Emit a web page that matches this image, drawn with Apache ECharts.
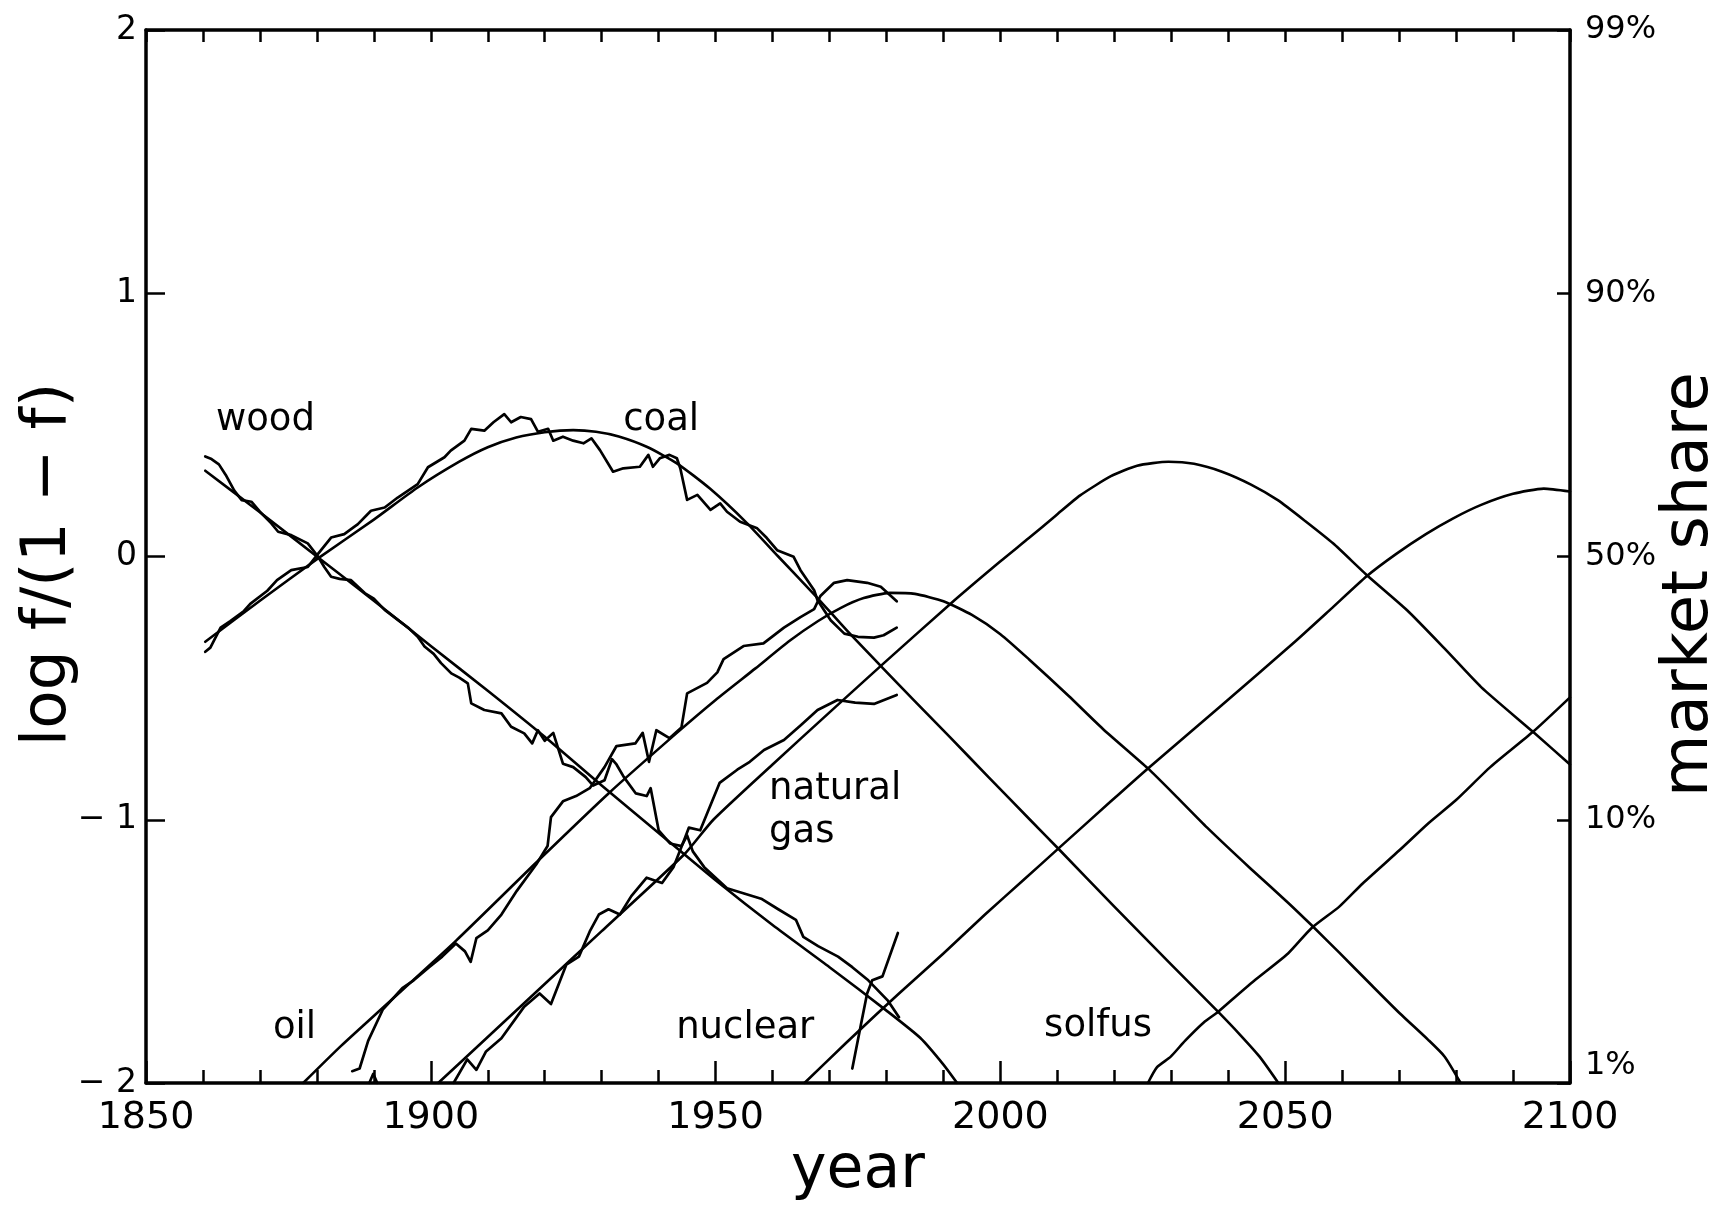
<!DOCTYPE html>
<html><head><meta charset="utf-8">
<script src="https://cdn.jsdelivr.net/npm/echarts@6/dist/echarts.min.js"></script>
<style>html,body{margin:0;padding:0;background:#fff}#c{width:1723px;height:1211px}</style>
</head><body><div id="c"></div>
<script>
// ---------- axes ----------
const yearMin = 1850, yearMax = 2100;
const logMin = -2, logMax = 2;
const leftTickLabels = { '2': '2', '1': '1', '0': '0', '-1': '− 1', '-2': '− 2' };
const shareTickLabels = { '2': '99%', '1': '90%', '0': '50%', '-1': '10%', '-2': '1%' };

// ---------- series (year, log f/(1-f)) ----------
const woodData = [[1860.4,0.38],[1861.5,0.37],[1862.8,0.35],[1864,0.31],[1865.5,0.25],[1866.8,0.214],[1868.5,0.208],[1870,0.17],[1872,0.126],[1873.2,0.094],[1875.5,0.081],[1878.4,0.05],[1880.2,0.0],[1881.3,-0.04],[1882.5,-0.077],[1884,-0.085],[1886,-0.09],[1888.4,-0.139],[1890,-0.16],[1891.9,-0.203],[1894.2,-0.241],[1896,-0.27],[1897.7,-0.305],[1898.9,-0.342],[1900.5,-0.37],[1901.8,-0.405],[1903.6,-0.444],[1905,-0.46],[1906.5,-0.482],[1907.1,-0.558],[1909.4,-0.583],[1912.4,-0.596],[1914.1,-0.647],[1916.4,-0.672],[1917.8,-0.71],[1918.8,-0.66],[1920,-0.7],[1921.5,-0.67],[1923.2,-0.787],[1925,-0.8],[1927.2,-0.838],[1928.5,-0.87],[1930.5,-0.85],[1931.8,-0.77],[1932.6,-0.79],[1933.9,-0.838],[1936,-0.9],[1937.9,-0.91],[1938.6,-0.88],[1940,-1.04],[1942,-1.09],[1944,-1.10],[1945,-1.06],[1946,-1.12],[1948,-1.18],[1950,-1.22],[1952,-1.26],[1955,-1.28],[1958,-1.30],[1961,-1.34],[1964.1,-1.38],[1965.4,-1.445],[1968,-1.48],[1971.5,-1.52],[1974,-1.56],[1976.8,-1.61],[1980.2,-1.686],[1982.2,-1.75]];
const woodFit = [[1860.4,0.326],[1870,0.168],[1880,0.0],[1890,-0.168],[1900,-0.34],[1910,-0.51],[1920,-0.685],[1930,-0.87],[1940,-1.05],[1950,-1.23],[1960,-1.40],[1970,-1.56],[1980,-1.725],[1986,-1.83],[1990,-1.93],[1992.4,-2.0]];

const coalData = [[1860.4,-0.362],[1861.3,-0.346],[1863.1,-0.27],[1864.8,-0.245],[1867.2,-0.207],[1868.3,-0.18],[1871.3,-0.13],[1873,-0.09],[1875.5,-0.052],[1878.4,-0.04],[1880.2,0.01],[1882.5,0.072],[1884.8,0.085],[1887.2,0.123],[1889.5,0.174],[1891.9,0.186],[1894.2,0.224],[1897.7,0.275],[1899.5,0.339],[1902.4,0.377],[1903.5,0.402],[1905.9,0.44],[1907.1,0.485],[1909.4,0.478],[1911,0.51],[1912.9,0.541],[1914.1,0.51],[1915.8,0.53],[1917.6,0.522],[1918.8,0.474],[1920.6,0.485],[1921.5,0.44],[1923.2,0.455],[1925,0.44],[1926.8,0.43],[1928.2,0.449],[1929.7,0.404],[1932,0.322],[1933.8,0.335],[1936.7,0.341],[1938.2,0.386],[1939,0.341],[1940.2,0.373],[1941.9,0.386],[1943.2,0.373],[1943.8,0.335],[1945,0.215],[1946.8,0.234],[1949.1,0.177],[1950.8,0.202],[1952,0.17],[1954.3,0.132],[1957.3,0.107],[1959,0.07],[1960.8,0.024],[1963.7,-0.001],[1964.9,-0.052],[1967.3,-0.128],[1967.9,-0.166],[1970.2,-0.242],[1972.6,-0.293],[1975,-0.305],[1977.8,-0.308],[1979.5,-0.299],[1981.8,-0.27]];
const coalFit = [[1860.4,-0.324],[1870,-0.168],[1880.2,-0.007],[1890,0.14],[1897.7,0.262],[1905,0.36],[1910,0.415],[1915,0.452],[1920,0.472],[1925,0.48],[1929,0.474],[1933,0.456],[1938,0.416],[1943.2,0.354],[1949,0.258],[1955.5,0.127],[1961,0.0],[1967.7,-0.153],[1973,-0.28],[1979.4,-0.425],[1985,-0.55],[1991.1,-0.685],[1998,-0.84],[2005.2,-1.0],[2010.4,-1.115],[2020,-1.33],[2030,-1.55],[2038.2,-1.729],[2042,-1.815],[2045.5,-1.90],[2048.8,-2.0]];

const oilData = [[1886.2,-1.955],[1887.5,-1.945],[1889,-1.84],[1891.6,-1.72],[1895,-1.64],[1897,-1.61],[1899.7,-1.56],[1902,-1.52],[1904.4,-1.47],[1906,-1.5],[1907,-1.54],[1908,-1.45],[1910,-1.42],[1912.4,-1.36],[1915.1,-1.27],[1918.5,-1.17],[1920.5,-1.1],[1921.1,-0.99],[1923.2,-0.93],[1925.5,-0.91],[1927.9,-0.88],[1930.5,-0.80],[1932.6,-0.72],[1935.9,-0.71],[1937.2,-0.67],[1938.3,-0.78],[1939.6,-0.66],[1941.9,-0.69],[1944,-0.65],[1945,-0.52],[1948.5,-0.48],[1950.3,-0.44],[1951.4,-0.39],[1954.9,-0.34],[1958.4,-0.33],[1962,-0.27],[1964.9,-0.23],[1967.3,-0.2],[1968.4,-0.15],[1970.8,-0.1],[1973.1,-0.09],[1976.6,-0.1],[1979,-0.115],[1981.8,-0.17]];
const oilFit = [[1877.6,-2.0],[1884.2,-1.86],[1892.3,-1.70],[1904.4,-1.46],[1919.1,-1.15],[1931.2,-0.90],[1943.2,-0.67],[1950,-0.545],[1957,-0.425],[1963,-0.32],[1968,-0.245],[1972,-0.195],[1976,-0.158],[1980.6,-0.138],[1985,-0.142],[1990,-0.17],[1995,-0.222],[2000,-0.295],[2005,-0.39],[2012,-0.53],[2018,-0.655],[2025.9,-0.805],[2030.9,-0.912],[2036.3,-1.03],[2043.9,-1.185],[2050.5,-1.315],[2054.6,-1.40],[2059.5,-1.505],[2065,-1.625],[2070.1,-1.735],[2075.1,-1.836],[2078,-1.9],[2080.8,-2.0]];

const gasData = [[1904,-2.0],[1906.4,-1.91],[1908,-1.95],[1909.7,-1.88],[1912.4,-1.83],[1916.4,-1.71],[1919.1,-1.66],[1921.1,-1.70],[1923.8,-1.55],[1926,-1.52],[1928,-1.42],[1929.5,-1.36],[1931.2,-1.34],[1933.2,-1.36],[1935.2,-1.29],[1937.9,-1.22],[1940.6,-1.24],[1942.6,-1.18],[1944.6,-1.07],[1945.3,-1.03],[1947.3,-1.04],[1950.7,-0.86],[1953.8,-0.81],[1956,-0.78],[1958.5,-0.735],[1962,-0.697],[1965,-0.64],[1967.9,-0.583],[1971.4,-0.545],[1974.5,-0.555],[1977.8,-0.56],[1981.8,-0.526]];
const gasFit = [[1901.3,-2.0],[1910,-1.825],[1920,-1.624],[1930,-1.423],[1944.6,-1.129],[1949.6,-1.0],[1960,-0.79],[1970,-0.592],[1979.4,-0.408],[1991.1,-0.182],[1999.9,-0.02],[2005,0.07],[2009.7,0.155],[2014,0.232],[2019.4,0.305],[2024,0.345],[2029.5,0.36],[2034,0.352],[2038.9,0.322],[2044,0.273],[2048.7,0.214],[2053.5,0.135],[2058.4,0.05],[2064.3,-0.07],[2071.4,-0.204],[2078,-0.35],[2084.4,-0.496],[2093.5,-0.666],[2100,-0.79]];

const nuclearData = [[1974,-1.945],[1975.5,-1.78],[1976.6,-1.66],[1977.5,-1.61],[1979.3,-1.595],[1982,-1.43]];
const nuclearFit = [[1965.6,-2.0],[1972.8,-1.85],[1978.2,-1.74],[1982.2,-1.66],[1989.9,-1.51],[1997.3,-1.36],[2004,-1.23],[2010.4,-1.105],[2019.4,-0.93],[2025.9,-0.805],[2038.9,-0.564],[2051.9,-0.32],[2058,-0.2],[2064.3,-0.075],[2069.5,0.01],[2074.7,0.085],[2079.5,0.145],[2084.4,0.196],[2090,0.238],[2095.4,0.258],[2100,0.247]];

const solfusFit = [[2025.9,-2.0],[2027.5,-1.94],[2029.9,-1.90],[2032.4,-1.84],[2035.7,-1.77],[2038.2,-1.73],[2040.6,-1.685],[2044.7,-1.609],[2050.5,-1.508],[2054.6,-1.412],[2059.5,-1.33],[2063.6,-1.242],[2070.1,-1.115],[2075.1,-1.014],[2080,-0.925],[2086,-0.80],[2093.5,-0.666],[2100,-0.535]];

const axisBlip = [[1889.2,-2.0],[1889.9,-1.965],[1890.6,-2.0]];

// text annotations: [year, value, text]
const annotations = [
  [1862.1, 0.446, 'wood'],
  [1933.6, 0.446, 'coal'],
  [1959.2, -0.955, 'natural'],
  [1959.2, -1.118, 'gas'],
  [1872.1, -1.864, 'oil'],
  [1942.9, -1.864, 'nuclear'],
  [2007.5, -1.856, 'solfus']
];

const FONT = 'DejaVu Sans';
const INK = '#000';

const dataCurves = [woodData, coalData, oilData, gasData, nuclearData, axisBlip];
const fitCurves = [woodFit, coalFit, oilFit, gasFit, nuclearFit, solfusFit];

const series = [];
dataCurves.forEach((d, i) => series.push({
  name: 'data' + i, type: 'line', data: d, symbol: 'none', showSymbol: false,
  lineStyle: { color: INK, width: 2.7, join: 'round', cap: 'round' }, silent: true, clip: true, z: 3
}));
fitCurves.forEach((d, i) => series.push({
  name: 'fit' + i, type: 'line', data: d, symbol: 'none', showSymbol: false,
  smooth: 0.2,
  lineStyle: { color: INK, width: 2.6, join: 'round', cap: 'round' }, silent: true, clip: true, z: 3
}));
series.push({
  name: 'labels', type: 'scatter', data: annotations, symbolSize: 2,
  itemStyle: { color: 'rgba(0,0,0,0)' }, silent: true, z: 5,
  encode: { x: 0, y: 1 },
  label: { show: true, position: 'right', distance: 0, align: 'left', verticalAlign: 'bottom',
    formatter: p => p.data[2], fontFamily: FONT, fontSize: 37, color: INK, opacity: 1 }
});

const chart = echarts.init(document.getElementById('c'), null, { renderer: 'canvas' });
chart.setOption({
  animation: false,
  backgroundColor: '#fff',
  grid: { left: 146, right: 153, top: 30, bottom: 128, containLabel: false, outerBoundsMode: 'none', show: false },
  xAxis: [
    { type: 'value', position: 'bottom', min: yearMin, max: yearMax, interval: 50,
      axisLine: { show: true, onZero: false, lineStyle: { color: INK, width: 3.5 } },
      axisTick: { show: true, inside: true, length: 22, lineStyle: { color: INK, width: 2.5 } },
      minorTick: { show: true, splitNumber: 5, length: 13, lineStyle: { color: INK, width: 2.5 } },
      splitLine: { show: false }, minorSplitLine: { show: false },
      axisLabel: { show: true, margin: 16, fontFamily: FONT, fontSize: 38, color: INK, showMinLabel: true, showMaxLabel: true, hideOverlap: false,
        formatter: v => String(v) },
      name: 'year', nameLocation: 'middle', nameGap: 58, nameMoveOverlap: false,
      nameTextStyle: { fontFamily: FONT, fontSize: 60, color: INK }
    },
    { type: 'value', position: 'top', min: yearMin, max: yearMax, interval: 10,
      axisLine: { show: true, onZero: false, lineStyle: { color: INK, width: 3.5 } },
      axisTick: { show: true, inside: true, length: 12, lineStyle: { color: INK, width: 2.5 } },
      splitLine: { show: false }, axisLabel: { show: false }
    }
  ],
  yAxis: [
    { type: 'value', position: 'left', min: logMin, max: logMax, interval: 1,
      axisLine: { show: true, onZero: false, lineStyle: { color: INK, width: 3.5 } },
      axisTick: { show: true, inside: true, length: 19, lineStyle: { color: INK, width: 2.5 } },
      splitLine: { show: false },
      axisLabel: { show: true, margin: 9, fontFamily: FONT, fontSize: 33, color: INK, showMinLabel: true, showMaxLabel: true,
        formatter: v => leftTickLabels[String(v)] },
      name: 'log f/(1 − f)', nameLocation: 'middle', nameGap: 66, nameRotate: 90, nameMoveOverlap: false,
      nameTextStyle: { fontFamily: FONT, fontSize: 63, color: INK, padding: [0, 16, 0, 0] }
    },
    { type: 'value', position: 'right', min: logMin, max: logMax, interval: 1,
      axisLine: { show: true, onZero: false, lineStyle: { color: INK, width: 3.5 } },
      axisTick: { show: true, inside: true, length: 13, lineStyle: { color: INK, width: 2.5 } },
      splitLine: { show: false },
      axisLabel: { show: true, margin: 15, fontFamily: FONT, fontSize: 32, color: INK, showMinLabel: true, showMaxLabel: true,
        formatter: v => (v === -2 ? '{lo|' + shareTickLabels['-2'] + '}' : shareTickLabels[String(v)]),
        rich: { lo: { fontFamily: FONT, fontSize: 32, color: INK, padding: [0, 0, 34, 0] } } },
      name: 'market share', nameLocation: 'middle', nameGap: 88, nameRotate: 90, nameMoveOverlap: false,
      nameTextStyle: { fontFamily: FONT, fontSize: 64, color: INK, padding: [0, 56, 0, 0] }
    }
  ],
  series: series
});
</script>
</body></html>
